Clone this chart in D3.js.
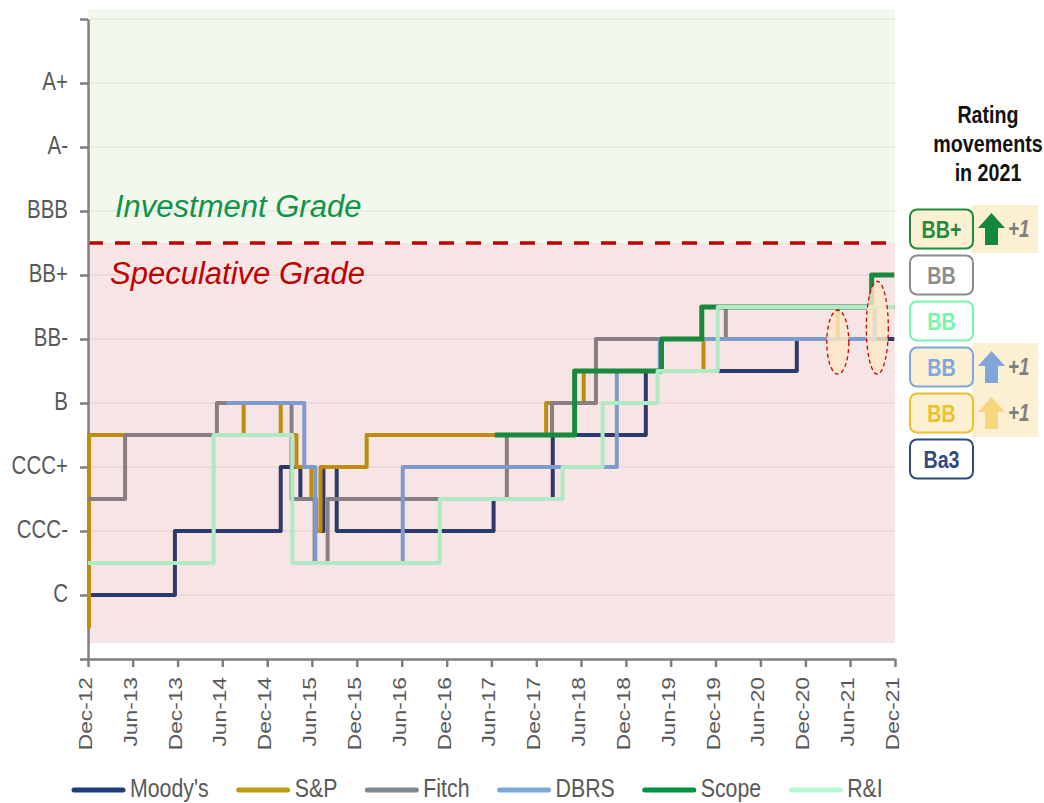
<!DOCTYPE html>
<html lang="en">
<head>
<meta charset="UTF-8">
<script src="https://d3js.org/d3.v7.min.js"></script>
<style>
    body { margin: 0; background: #fff; }
    svg { display: block; }
    text { font-family: "Liberation Sans", Arial, sans-serif; }
</style>
</head>
<body>
<div id="chart"></div>
<script>
// rating scale used on the y axis: 0 = C, 1 = CC, 2 = CCC- ... 16 = A+ (-1 = SD)
var ratingTicks = [0, 2, 4, 6, 8, 10, 12, 14, 16];
var ratingLabels = ["C", "CCC-", "CCC+", "B", "BB-", "BB+", "BBB", "A-", "A+"];
var dateTicks = ["Dec-12", "Jun-13", "Dec-13", "Jun-14", "Dec-14", "Jun-15", "Dec-15", "Jun-16", "Dec-16",
                 "Jun-17", "Dec-17", "Jun-18", "Dec-18", "Jun-19", "Dec-19", "Jun-20", "Dec-20", "Jun-21", "Dec-21"];

var agencies = ["Moody's", "S&P", "Fitch", "DBRS", "Scope", "R&I"];

var moodysDates  = ["2012-12-01", "2013-11-20", "2015-01-25", "2015-04-15", "2015-06-15", "2015-07-18", "2015-09-10",
                    "2017-06-10", "2018-02-06", "2019-02-20", "2020-10-27"];
var moodysValues = [0, 2, 4, 3, 2, 4, 2, 3, 5, 7, 8];

var spDates  = ["2012-12-01", "2012-12-05", "2014-08-27", "2015-01-25", "2015-03-30", "2015-05-30", "2015-06-18",
                "2015-07-06", "2016-01-10", "2018-01-10", "2018-06-12", "2019-10-13", "2021-04-12"];
var spValues = [-1, 5, 6, 5, 4, 3, 2, 4, 5, 6, 7, 8, 9];

var fitchDates  = ["2012-12-01", "2013-05-01", "2014-05-10", "2015-03-10", "2015-06-12", "2015-08-04", "2017-08-03",
                   "2018-02-03", "2018-08-01", "2020-01-12"];
var fitchValues = [3, 5, 6, 3, 1, 3, 5, 6, 8, 9];

var dbrsDates  = ["2014-06-18", "2015-05-01", "2015-06-15", "2016-06-05", "2018-10-25", "2019-04-18", "2021-09-10"];
var dbrsValues = [6, 4, 1, 4, 7, 8, 9];

var scopeDates  = ["2017-06-15", "2018-05-06", "2019-04-25", "2019-10-06", "2021-08-28"];
var scopeValues = [5, 7, 8, 9, 10];

var riDates  = ["2012-12-01", "2014-04-27", "2015-03-13", "2016-11-03", "2018-03-18", "2018-08-28", "2019-04-09", "2019-12-10"];
var riValues = [1, 5, 1, 3, 4, 6, 7, 9];

var lastDate = "2021-11-28";
var investmentGrade = 11;

// rating movements in 2021
var summaryAgencies = ["Scope", "Fitch", "R&I", "DBRS", "S&P", "Moody's"];
var summaryRatings  = ["BB+", "BB", "BB", "BB", "BB", "Ba3"];
var summaryMoves    = [1, 0, 0, 1, 1, 0];

// highlighted upgrades of 2021
var upgradeDates = ["2021-04-12", "2021-09-20"];
var upgradeLow   = [6.9, 6.9];
var upgradeHigh  = [8.9, 9.8];

var lineColors   = {"Moody's": "#2c3a6b", "S&P": "#c08c0c", "Fitch": "#8a7e85", "DBRS": "#7f9bcb", "Scope": "#188a3c", "R&I": "#b2e9c5"};
var legendColors = {"Moody's": "#1f3f78", "S&P": "#c09a10", "Fitch": "#7f868d", "DBRS": "#7fa8da", "Scope": "#00933f", "R&I": "#b3fcd3"};
var boxColors    = {"Moody's": "#2f4a7c", "S&P": "#f0c028", "Fitch": "#8c8c8c", "DBRS": "#7fa7dc", "Scope": "#1e8b3e", "R&I": "#74f7a8"};
var arrowColors  = {"Moody's": "#2f4a7c", "S&P": "#f6d77c", "Fitch": "#8c8c8c", "DBRS": "#7ea6dc", "Scope": "#13883a", "R&I": "#74f7a8"};
var lineWidths   = {"Moody's": 4, "S&P": 4, "Fitch": 4, "DBRS": 4, "Scope": 5, "R&I": 4};

var series = [
    {name: "Moody's", dates: moodysDates, values: moodysValues},
    {name: "S&P", dates: spDates, values: spValues},
    {name: "Fitch", dates: fitchDates, values: fitchValues},
    {name: "DBRS", dates: dbrsDates, values: dbrsValues},
    {name: "Scope", dates: scopeDates, values: scopeValues},
    {name: "R&I", dates: riDates, values: riValues}
];

var W = 1044, H = 803;
var NARROW = 0.82;  // the original uses a condensed face, squeeze the regular one
var svg = d3.select("#chart").append("svg").attr("width", W).attr("height", H);

function narrowText(px, py, size) {
    return svg.append("text")
        .attr("transform", "translate(" + px + "," + py + ") scale(" + NARROW + ",1)")
        .style("font-size", size + "px");
}

var parseDate = d3.timeParse("%Y-%m-%d");
var parseTick = d3.timeParse("%b-%y");
var tickDates = dateTicks.map(parseTick);

var x = d3.scaleTime()
    .domain([tickDates[0], tickDates[tickDates.length - 1]])
    .range([88, 895]);
var y = d3.scaleLinear().domain([-2, 18]).range([659, 19]);
var x0 = x.range()[0], x1 = x.range()[1];

// background zones
svg.append("rect")
    .attr("x", x0).attr("y", y(18.3))
    .attr("width", x1 - x0).attr("height", y(investmentGrade) - y(18.3))
    .attr("fill", "#f2f8ee");
svg.append("rect")
    .attr("x", x0).attr("y", y(investmentGrade))
    .attr("width", x1 - x0).attr("height", y(-1.5) - y(investmentGrade))
    .attr("fill", "#f7e4e4");

// gridlines
var gridValues = ratingTicks.concat([18]);
svg.append("g").selectAll("line")
    .data(gridValues)
    .enter().append("line")
    .attr("x1", x0).attr("x2", x1)
    .attr("y1", function(d) { return y(d); })
    .attr("y2", function(d) { return y(d); })
    .attr("stroke", "#000").attr("stroke-opacity", 0.06).attr("stroke-width", 1.5);

// zone labels
svg.append("text")
    .attr("x", 115).attr("y", 217)
    .style("font-size", "31px").style("font-style", "italic").attr("fill", "#119447")
    .text("Investment Grade");
svg.append("text")
    .attr("x", 110).attr("y", 284)
    .style("font-size", "31px").style("font-style", "italic").attr("fill", "#c00000")
    .text("Speculative Grade");

svg.append("line")
    .attr("x1", x0).attr("x2", x1)
    .attr("y1", y(investmentGrade)).attr("y2", y(investmentGrade))
    .attr("stroke", "#c00000").attr("stroke-width", 3.5).attr("stroke-dasharray", "15 12");

// y axis
var yAxis = svg.append("g")
    .attr("transform", "translate(" + x0 + ",0)")
    .call(d3.axisLeft(y)
        .tickValues(d3.range(-2, 19, 2))
        .tickSize(8).tickSizeOuter(0).tickPadding(12)
        .tickFormat(function(d) { var i = ratingTicks.indexOf(d); return i < 0 ? "" : ratingLabels[i]; }));
yAxis.selectAll("path, line").attr("stroke", "#7f7f7f").attr("stroke-width", 2.5);
yAxis.selectAll("text")
    .attr("x", -20 / NARROW)
    .attr("transform", "scale(" + NARROW + ",1)")
    .attr("dy", "0.26em")
    .style("font-size", "25px")
    .style("font-family", "'Liberation Sans', Arial, sans-serif")
    .attr("fill", "#595959");

// x axis
var xAxis = svg.append("g")
    .attr("transform", "translate(0," + y(-2) + ")")
    .call(d3.axisBottom(x)
        .tickValues(tickDates)
        .tickSize(8).tickSizeOuter(0)
        .tickFormat(function(d, i) { return dateTicks[i]; }));
xAxis.selectAll("path, line").attr("stroke", "#7f7f7f").attr("stroke-width", 2.5);
xAxis.selectAll("text")
    .attr("transform", "rotate(-90) scale(1.3,1)")
    .attr("x", -18 / 1.3).attr("y", 0)
    .attr("dy", "0.2em")
    .style("text-anchor", "end")
    .style("font-size", "17.5px")
    .style("font-family", "'Liberation Sans', Arial, sans-serif")
    .attr("fill", "#595959");

// rating lines
var line = d3.line()
    .x(function(d) { return x(d[0]); })
    .y(function(d) { return y(d[1]); })
    .curve(d3.curveStepAfter);

series.forEach(function(s) {
    var pts = s.dates.map(function(d, i) { return [parseDate(d), s.values[i]]; });
    pts.push([parseDate(lastDate), s.values[s.values.length - 1]]);
    svg.append("path")
        .datum(pts)
        .attr("d", line)
        .attr("fill", "none")
        .attr("stroke", lineColors[s.name])
        .attr("stroke-width", lineWidths[s.name])
        .attr("stroke-linejoin", "round");
});

// highlighted upgrades
upgradeDates.forEach(function(d, i) {
    var cy = (y(upgradeLow[i]) + y(upgradeHigh[i])) / 2;
    svg.append("ellipse")
        .attr("cx", x(parseDate(d))).attr("cy", cy)
        .attr("rx", 11).attr("ry", (y(upgradeLow[i]) - y(upgradeHigh[i])) / 2)
        .attr("fill", "#fbe8c6").attr("fill-opacity", 0.82)
        .attr("stroke", "#d00000").attr("stroke-width", 1.3).attr("stroke-dasharray", "4 3");
});

// legend
var lx = 72;
agencies.forEach(function(a) {
    svg.append("line")
        .attr("x1", lx + 2).attr("x2", lx + 51)
        .attr("y1", 790).attr("y2", 790)
        .attr("stroke", legendColors[a]).attr("stroke-width", 5).attr("stroke-linecap", "round");
    var t = narrowText(lx + 58, 797, 26).attr("fill", "#595959").text(a);
    lx += 58 + t.node().getComputedTextLength() * NARROW + 28;
});

// right panel
["Rating", "movements", "in 2021"].forEach(function(t, i) {
    narrowText(988, 123 + i * 29, 24)
        .attr("text-anchor", "middle")
        .style("font-weight", "bold").attr("fill", "#111")
        .text(t);
});

summaryAgencies.forEach(function(a, i) {
    var cy = 229 + i * 46;
    var moved = summaryMoves[i] > 0;
    if (moved) {
        svg.append("rect")
            .attr("x", 972).attr("y", cy - 24).attr("width", 66).attr("height", 48)
            .attr("fill", "#fbf0d2");
    }
    svg.append("rect")
        .attr("x", 910).attr("y", cy - 19.5).attr("width", 63).attr("height", 39)
        .attr("rx", 7).attr("ry", 7)
        .attr("fill", moved ? "#fbf0d2" : "#fff")
        .attr("stroke", boxColors[a]).attr("stroke-width", 2);
    narrowText(941.5, cy + 8.5, 24)
        .attr("text-anchor", "middle")
        .style("font-weight", "bold")
        .attr("fill", boxColors[a])
        .text(summaryRatings[i]);
    if (moved) {
        var top = cy - 16, bot = cy + 16, ax = 991.5;
        svg.append("path")
            .attr("d", "M" + ax + "," + top + "L" + (ax + 13.5) + "," + (top + 15) + "L" + (ax + 6.5) + "," + (top + 15) +
                       "L" + (ax + 6.5) + "," + bot + "L" + (ax - 6.5) + "," + bot + "L" + (ax - 6.5) + "," + (top + 15) +
                       "L" + (ax - 13.5) + "," + (top + 15) + "Z")
            .attr("fill", arrowColors[a]);
        narrowText(1008, cy + 8, 23)
            .style("font-weight", "bold").style("font-style", "italic")
            .attr("fill", "#7f7f7f")
            .text("+" + summaryMoves[i]);
    }
});
</script>
</body>
</html>
